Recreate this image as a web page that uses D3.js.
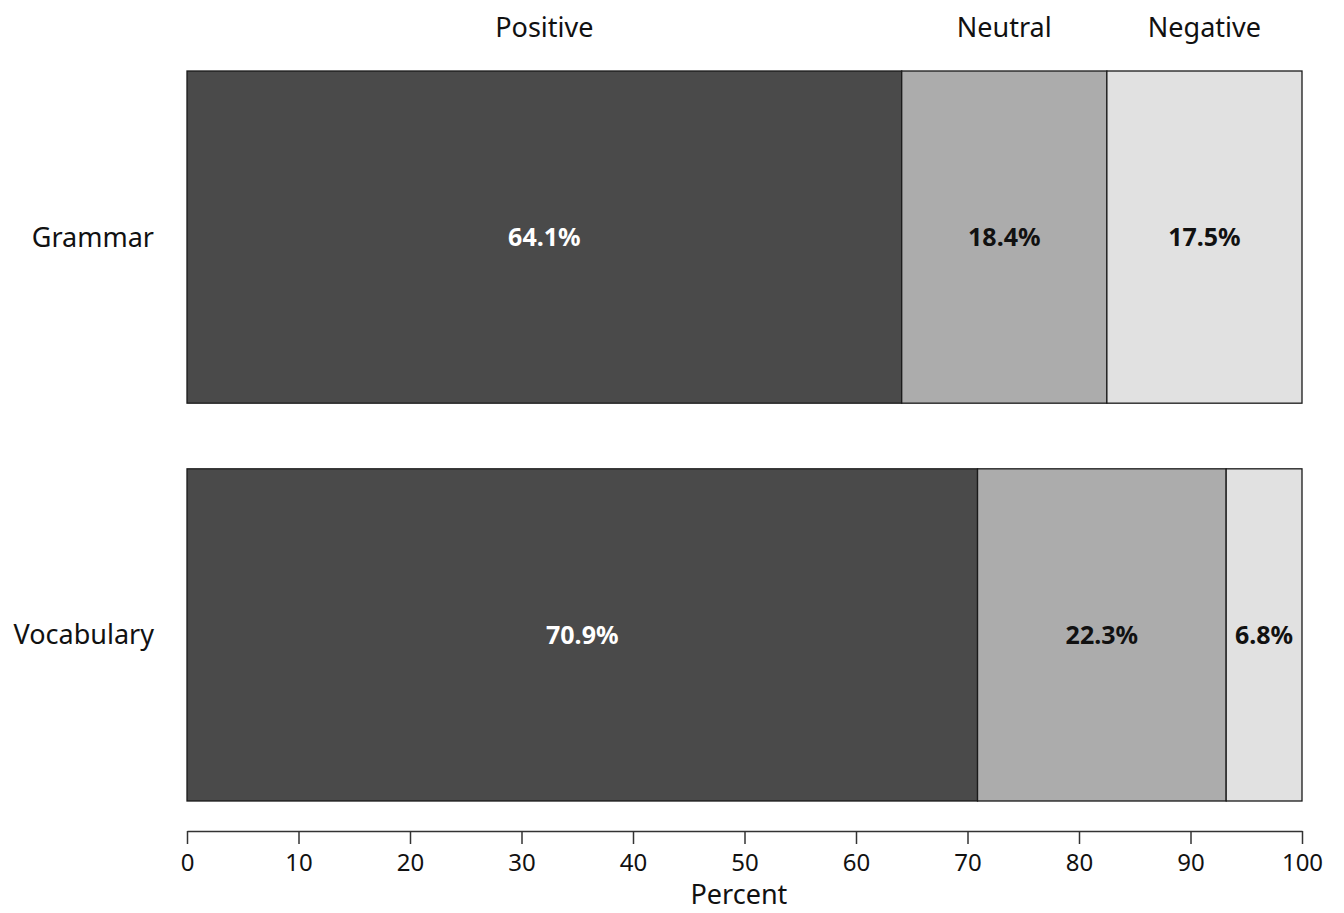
<!DOCTYPE html>
<html>
<head>
<meta charset="utf-8">
<script src="https://cdn.jsdelivr.net/npm/d3@7"></script>
<style>
  body { margin: 0; background: #fff; }
  svg text { font-family: "Noto Sans", sans-serif; }
</style>
</head>
<body>
<svg id="chart"></svg>
<script>
const categories = ['Grammar', 'Vocabulary'];
const responses = ['Positive', 'Neutral', 'Negative'];
const positive = [64.1, 70.9];
const neutral = [18.4, 22.3];
const negative = [17.5, 6.8];
const xTicks = [0, 10, 20, 30, 40, 50, 60, 70, 80, 90, 100];

const width = 1344;
const height = 913;
const margin = { top: 71, right: 42, bottom: 112, left: 187 };

const fills = ['#4a4a4a', '#acacac', '#e1e1e1'];
const textFills = ['#ffffff', '#111111', '#111111'];

const rows = categories.map((c, i) => ({ category: c, Positive: positive[i], Neutral: neutral[i], Negative: negative[i] }));
const series = d3.stack().keys(responses)(rows);

const svg = d3.select('#chart')
    .attr('width', width)
    .attr('height', height);

const x = d3.scaleLinear()
    .domain([0, 100])
    .range([margin.left, width - margin.right]);

const y = d3.scaleBand()
    .domain(categories)
    .range([margin.top, height - margin.bottom])
    .paddingInner(0.165)
    .paddingOuter(0);

const color = d3.scaleOrdinal().domain(responses).range(fills);
const textColor = d3.scaleOrdinal().domain(responses).range(textFills);

const groups = svg.selectAll('.series')
    .data(series)
    .join('g')
    .attr('class', 'series');

groups.selectAll('rect')
    .data(d => d.map(p => Object.assign(p, { key: d.key })))
    .join('rect')
    .attr('x', d => x(d[0]))
    .attr('y', d => y(d.data.category))
    .attr('width', d => x(d[1]) - x(d[0]))
    .attr('height', y.bandwidth())
    .attr('fill', d => color(d.key))
    .attr('stroke', '#1a1a1a')
    .attr('stroke-width', 1.3);

groups.selectAll('.val')
    .data(d => d)
    .join('text')
    .attr('class', 'val')
    .attr('x', d => x((d[0] + d[1]) / 2))
    .attr('y', d => y(d.data.category) + y.bandwidth() / 2)
    .attr('dy', '0.35em')
    .attr('text-anchor', 'middle')
    .attr('font-size', 25)
    .attr('font-weight', 'bold')
    .attr('fill', d => textColor(d.key))
    .text(d => (d[1] - d[0]).toFixed(1) + '%');

// legend labels centred above the first bar's segments
svg.selectAll('.legend')
    .data(series)
    .join('text')
    .attr('class', 'legend')
    .attr('x', d => x((d[0][0] + d[0][1]) / 2))
    .attr('y', 28)
    .attr('dy', '0.35em')
    .attr('text-anchor', 'middle')
    .attr('font-size', 27)
    .attr('fill', '#111')
    .text(d => d.key);

svg.selectAll('.cat')
    .data(categories)
    .join('text')
    .attr('class', 'cat')
    .attr('x', 154)
    .attr('y', d => y(d) + y.bandwidth() / 2)
    .attr('dy', '0.35em')
    .attr('text-anchor', 'end')
    .attr('font-size', 27)
    .attr('fill', '#111')
    .text(d => d);

const gx = svg.append('g')
    .attr('transform', `translate(0, 831)`)
    .call(d3.axisBottom(x).tickValues(xTicks).tickSize(13).tickPadding(10).tickSizeOuter(0));

gx.select('.domain').attr('stroke', '#333').attr('stroke-width', 1.5);
gx.selectAll('.tick line').attr('stroke', '#333').attr('stroke-width', 1.5);
gx.selectAll('.tick text')
    .attr('font-size', 24)
    .attr('font-family', '"Noto Sans", sans-serif')
    .attr('fill', '#111');

svg.append('text')
    .attr('x', x(49.5))
    .attr('y', 904)
    .attr('text-anchor', 'middle')
    .attr('font-size', 27)
    .attr('fill', '#111')
    .text('Percent');
</script>
</body>
</html>
